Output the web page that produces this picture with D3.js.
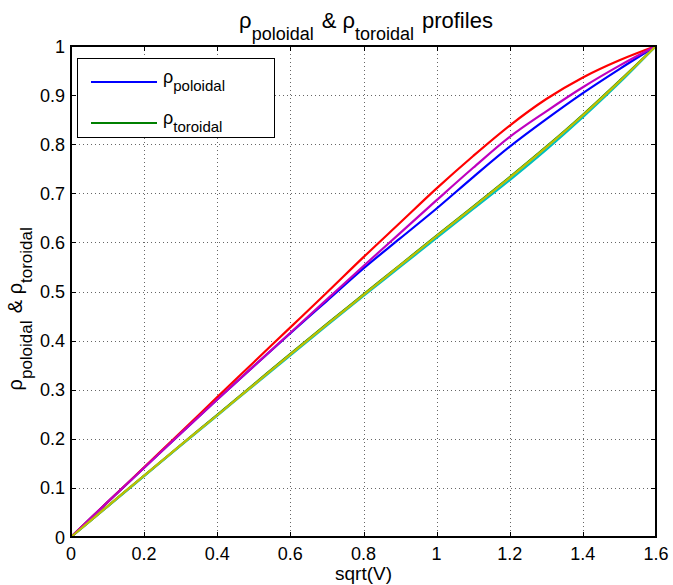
<!DOCTYPE html>
<html lang="en">
<head>
<meta charset="utf-8">
<title>rho profiles</title>
<style>
  body { margin: 0; background: #fff; }
  svg { display: block; }
  text { font-family: "Liberation Sans", Arial, Helvetica, sans-serif; fill: #000; }
  .grid line { stroke: #666; stroke-width: 1; stroke-dasharray: 1 3; shape-rendering: crispEdges; }
  .tick-mark { stroke: #000; stroke-width: 1; shape-rendering: crispEdges; }
  .frame { fill: none; stroke: #000; stroke-width: 1.3; shape-rendering: crispEdges; }
  .curve { fill: none; stroke-width: 2.2; stroke-linejoin: round; }
</style>
</head>
<body>
<div id="chart"></div>
<script src="https://cdn.jsdelivr.net/npm/d3@7"></script>
<script>
// abscissa samples, sqrt(V)
var sqrtV = [0, 0.1, 0.2, 0.3, 0.4, 0.5, 0.6, 0.7, 0.8, 0.9, 1.0, 1.1, 1.2, 1.3, 1.4, 1.5, 1.6];

// poloidal profiles
var rhoPol1 = [0, 0.071, 0.141, 0.211, 0.280, 0.348, 0.415, 0.481, 0.547, 0.608, 0.669, 0.733, 0.795, 0.851, 0.904, 0.953, 1];
var rhoPol2 = [0, 0.071, 0.142, 0.213, 0.285, 0.356, 0.427, 0.498, 0.570, 0.640, 0.710, 0.776, 0.838, 0.892, 0.936, 0.971, 1];
var rhoPol3 = [0, 0.071, 0.141, 0.211, 0.280, 0.348, 0.416, 0.484, 0.552, 0.619, 0.686, 0.752, 0.815, 0.867, 0.916, 0.960, 1];

// toroidal profiles
var rhoTor1 = [0, 0.0625, 0.125, 0.187, 0.249, 0.311, 0.373, 0.434, 0.494, 0.554, 0.614, 0.673, 0.733, 0.795, 0.860, 0.929, 1];
var rhoTor2 = [0, 0.062, 0.124, 0.186, 0.247, 0.309, 0.370, 0.431, 0.491, 0.550, 0.609, 0.668, 0.727, 0.789, 0.855, 0.925, 1];
var rhoTor3 = [0, 0.0625, 0.125, 0.187, 0.248, 0.310, 0.372, 0.433, 0.493, 0.553, 0.613, 0.672, 0.732, 0.794, 0.859, 0.928, 1];

var xTicks = [0, 0.2, 0.4, 0.6, 0.8, 1, 1.2, 1.4, 1.6];
var yTicks = [0, 0.1, 0.2, 0.3, 0.4, 0.5, 0.6, 0.7, 0.8, 0.9, 1];

// MATLAB colour order, plotted b g r c m y
var series = [
  { v: rhoPol1, c: "#0000ff" },
  { v: rhoTor1, c: "#008000" },
  { v: rhoPol2, c: "#ff0000" },
  { v: rhoTor2, c: "#00bfbf" },
  { v: rhoPol3, c: "#bf00bf" },
  { v: rhoTor3, c: "#bfbf00" }
];

var W = 673, H = 585;
var L = 71, R = 656, T = 46, B = 537;

var svg = d3.select("#chart").append("svg").attr("width", W).attr("height", H);

var x = d3.scaleLinear().domain([0, 1.6]).range([L, R]);
var y = d3.scaleLinear().domain([0, 1]).range([B, T]);

// dotted grid
var grid = svg.append("g").attr("class", "grid");
grid.selectAll(".gx").data(xTicks.slice(1, -1)).enter().append("line")
  .attr("x1", function(d){ return Math.round(x(d)) + 0.5; })
  .attr("x2", function(d){ return Math.round(x(d)) + 0.5; })
  .attr("y1", T).attr("y2", B);
grid.selectAll(".gy").data(yTicks.slice(1, -1)).enter().append("line")
  .attr("y1", function(d){ return Math.round(y(d)) + 0.5; })
  .attr("y2", function(d){ return Math.round(y(d)) + 0.5; })
  .attr("x1", L).attr("x2", R);

// inward ticks on all four sides
var tk = 5;
var ticks = svg.append("g");
xTicks.forEach(function(d){
  var px = Math.round(x(d)) + 0.5;
  ticks.append("line").attr("class", "tick-mark").attr("x1", px).attr("x2", px).attr("y1", B).attr("y2", B - tk);
  ticks.append("line").attr("class", "tick-mark").attr("x1", px).attr("x2", px).attr("y1", T).attr("y2", T + tk);
});
yTicks.forEach(function(d){
  var py = Math.round(y(d)) + 0.5;
  ticks.append("line").attr("class", "tick-mark").attr("y1", py).attr("y2", py).attr("x1", L).attr("x2", L + tk);
  ticks.append("line").attr("class", "tick-mark").attr("y1", py).attr("y2", py).attr("x1", R).attr("x2", R - tk);
});

// curves
var line = d3.line()
  .x(function(d){ return x(d[0]); })
  .y(function(d){ return y(d[1]); })
  .curve(d3.curveCatmullRom.alpha(0.5));

svg.append("g").selectAll("path").data(series).enter().append("path")
  .attr("class", "curve")
  .attr("stroke", function(d){ return d.c; })
  .attr("d", function(d){ return line(sqrtV.map(function(v, i){ return [v, d.v[i]]; })); });

svg.append("rect").attr("class", "frame")
  .attr("x", L).attr("y", T).attr("width", R - L).attr("height", B - T);

// tick labels
svg.append("g").selectAll("text").data(xTicks).enter().append("text")
  .attr("x", function(d){ return x(d); })
  .attr("y", B + 23)
  .attr("text-anchor", "middle")
  .style("font-size", "18px")
  .text(function(d){ return d3.format("~g")(d); });

svg.append("g").selectAll("text").data(yTicks).enter().append("text")
  .attr("x", L - 6)
  .attr("y", function(d){ return y(d) + 6.5; })
  .attr("text-anchor", "end")
  .style("font-size", "18px")
  .text(function(d){ return d3.format("~g")(d); });

// rho with subscripted name
function rhoLabel(sel, parts, subSize, drop) {
  parts.forEach(function(p){
    if (p.sub) {
      sel.append("tspan").attr("dy", drop).style("font-size", subSize + "px").text(p.t);
      sel.append("tspan").attr("dy", -drop).text("\u200a");
    } else {
      sel.append("tspan").text(p.t);
    }
  });
}

var title = svg.append("text")
  .attr("x", 366).attr("y", 28)
  .attr("text-anchor", "middle")
  .style("font-size", "22px");
rhoLabel(title, [{t: "\u03c1"}, {t: "poloidal", sub: true}, {t: " & \u03c1"}, {t: "toroidal", sub: true}, {t: " profiles"}], 18, 12);

svg.append("text")
  .attr("x", x(0.8)).attr("y", 580)
  .attr("text-anchor", "middle")
  .style("font-size", "19px")
  .text("sqrt(V)");

var ylab = svg.append("text")
  .attr("transform", "translate(22,308) rotate(-90)")
  .attr("text-anchor", "middle")
  .style("font-size", "20px");
rhoLabel(ylab, [{t: "\u03c1"}, {t: "poloidal", sub: true}, {t: " & \u03c1"}, {t: "toroidal", sub: true}], 17, 10);

// legend
var leg = svg.append("g");
leg.append("rect")
  .attr("x", 77.5).attr("y", 58.5).attr("width", 197).attr("height", 79)
  .attr("fill", "#fff").attr("stroke", "#000").attr("stroke-width", 1);
var legItems = [
  { name: "poloidal", c: "#0000ff", y: 82 },
  { name: "toroidal", c: "#008000", y: 123 }
];
legItems.forEach(function(d){
  leg.append("line").attr("x1", 91).attr("x2", 157).attr("y1", d.y).attr("y2", d.y)
    .attr("stroke", d.c).attr("stroke-width", 2.2);
  var t = leg.append("text").attr("x", 163).attr("y", d.y + 1).style("font-size", "18px");
  rhoLabel(t, [{t: "\u03c1"}, {t: d.name, sub: true}], 15, 8);
});
</script>
</body>
</html>
